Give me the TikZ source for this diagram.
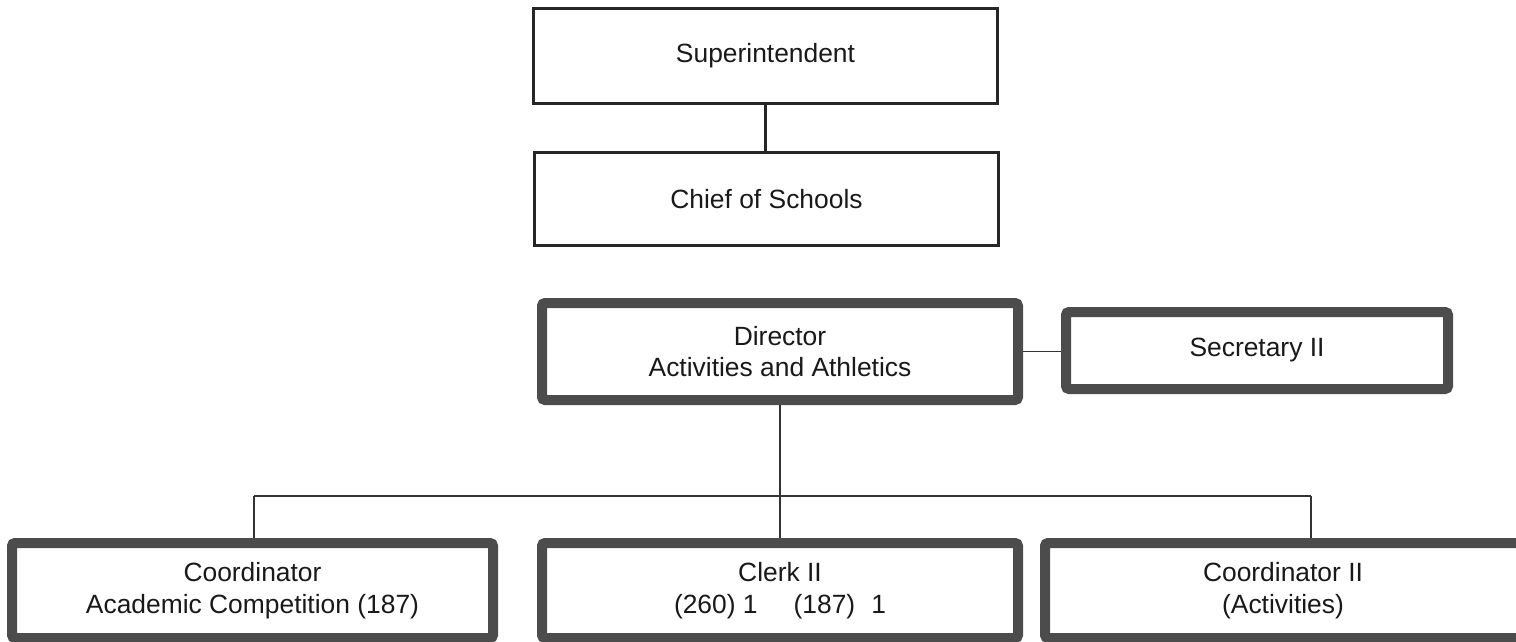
\documentclass[tikz,border=0pt]{standalone}
\usepackage{fontspec}
\setmainfont{Liberation Sans}
\begin{document}
\begin{tikzpicture}[x=1pt,y=-1pt,
  txt/.style={font=\fontsize{26.4}{31}\selectfont, align=center, inner sep=0pt, text=black!90},
  lowtxt/.style={font=\fontsize{26.4}{32.5}\selectfont},
  plainbox/.style={txt, draw=black!85, line width=3pt},
  heavybox/.style={txt, draw=black!70, line width=10pt, rounded corners=3pt, fill=white},
  thinline/.style={draw=black!80, line width=1.4pt},
  thickline/.style={draw=black!85, line width=3pt}]
\useasboundingbox (0,0) rectangle (1516,642);
\clip (0,0) rectangle (1516,642);
\node[plainbox, minimum width=464pt, minimum height=95pt] (sup) at (765.5,56) {Superintendent};
\node[plainbox, minimum width=464pt, minimum height=93pt] (chief) at (766.5,199) {Chief of Schools};
\node[heavybox, minimum width=476pt, minimum height=97pt] (dir) at (780,351.5) {Director\\Activities and Athletics};
\node[heavybox, minimum width=382pt, minimum height=77pt] (sec) at (1257,350.5) {Secretary II};
\node[heavybox, lowtxt, minimum width=481pt, minimum height=95pt] (coord) at (252.5,590.5) {Coordinator\\Academic Competition (187)};
\node[heavybox, lowtxt, minimum width=476pt, minimum height=95pt] (clerk) at (780,590.5) {Clerk II\\(260) 1\hspace{36pt}(187)\hspace{16pt}1};
\node[heavybox, lowtxt, minimum width=490pt, minimum height=95pt] (coord2) at (1290,590.5) {Coordinator II\hspace*{14pt}\\(Activities)\hspace*{14pt}};
\coordinate (bus) at (780,496);
\coordinate (busL) at (254,496);
\coordinate (busR) at (1311,496);
\draw[thickline] (sup.south) -- (sup.south |- chief.north);
\draw[thinline] (dir.east) -- (sec.west |- dir.east);
\draw[thinline] (dir.south) -- (bus);
\draw[thinline] (busL) -- (busR);
\draw[thinline] (busL) -- (busL |- coord.north);
\draw[thinline] (bus) -- (clerk.north);
\draw[thinline] (busR) -- (busR |- coord2.north);
\end{tikzpicture}
\end{document}
